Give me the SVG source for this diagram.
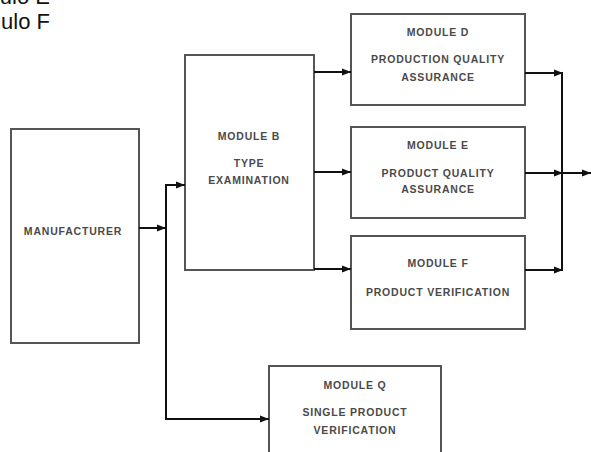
<svg xmlns="http://www.w3.org/2000/svg" width="591" height="452" viewBox="0 0 591 452">
  <style>
    .box { fill: #ffffff; stroke: #555555; stroke-width: 2; }
    .lbl { font-family: "Liberation Sans", Arial, sans-serif; font-size: 10.5px; font-weight: bold; letter-spacing: 0.8px; fill: #4a4a4a; text-anchor: middle; }
    .cap { font-family: "Liberation Sans", Arial, sans-serif; font-size: 22px; fill: #111111; text-anchor: end; }
    .con { fill: none; stroke: #111111; stroke-width: 2; }
  </style>
  <defs>
    <marker id="arr" markerUnits="userSpaceOnUse" markerWidth="9" markerHeight="8" refX="9" refY="4" orient="auto">
      <path d="M0,0.5 L9,4 L0,7.5 z" fill="#111111"/>
    </marker>
  </defs>
  <rect width="591" height="452" fill="#ffffff"/>

  <text class="cap" x="50" y="4">Modulo E</text>
  <text class="cap" x="50" y="29">Modulo F</text>

  <g id="manufacturer">
    <rect class="box" x="11" y="129" width="128" height="214"/>
    <text class="lbl" x="73" y="235">MANUFACTURER</text>
  </g>
  <g id="module-b">
    <rect class="box" x="185" y="55" width="129" height="215"/>
    <text class="lbl" x="249" y="140">MODULE B</text>
    <text class="lbl" x="249" y="167">TYPE</text>
    <text class="lbl" x="249" y="184">EXAMINATION</text>
  </g>
  <g id="module-d">
    <rect class="box" x="351" y="14" width="174" height="91"/>
    <text class="lbl" x="438" y="36">MODULE D</text>
    <text class="lbl" x="438" y="63">PRODUCTION QUALITY</text>
    <text class="lbl" x="438" y="81">ASSURANCE</text>
  </g>
  <g id="module-e">
    <rect class="box" x="351" y="127" width="174" height="91"/>
    <text class="lbl" x="438" y="149">MODULE E</text>
    <text class="lbl" x="438" y="177">PRODUCT QUALITY</text>
    <text class="lbl" x="438" y="193">ASSURANCE</text>
  </g>
  <g id="module-f">
    <rect class="box" x="351" y="236" width="174" height="93"/>
    <text class="lbl" x="438" y="267">MODULE F</text>
    <text class="lbl" x="438" y="296">PRODUCT VERIFICATION</text>
  </g>
  <g id="module-q">
    <rect class="box" x="269" y="366" width="172" height="95"/>
    <text class="lbl" x="355" y="389">MODULE Q</text>
    <text class="lbl" x="355" y="416">SINGLE PRODUCT</text>
    <text class="lbl" x="355" y="434">VERIFICATION</text>
  </g>

  <g id="connectors">
    <line class="con" x1="139" y1="228" x2="166" y2="228" marker-end="url(#arr)"/>
    <line class="con" x1="166" y1="185" x2="166" y2="419"/>
    <line class="con" x1="165" y1="185" x2="185" y2="185" marker-end="url(#arr)"/>
    <line class="con" x1="165" y1="419" x2="269" y2="419" marker-end="url(#arr)"/>
    <line class="con" x1="314" y1="72" x2="351" y2="72" marker-end="url(#arr)"/>
    <line class="con" x1="314" y1="172" x2="351" y2="172" marker-end="url(#arr)"/>
    <line class="con" x1="314" y1="269" x2="351" y2="269" marker-end="url(#arr)"/>
    <line class="con" x1="525" y1="73" x2="563" y2="73" marker-end="url(#arr)"/>
    <line class="con" x1="525" y1="270" x2="563" y2="270" marker-end="url(#arr)"/>
    <line class="con" x1="562" y1="72" x2="562" y2="271"/>
    <line class="con" x1="525" y1="173" x2="563" y2="173" marker-end="url(#arr)"/>
    <line class="con" x1="562" y1="173" x2="591" y2="173" marker-end="url(#arr)"/>
  </g>
</svg>
